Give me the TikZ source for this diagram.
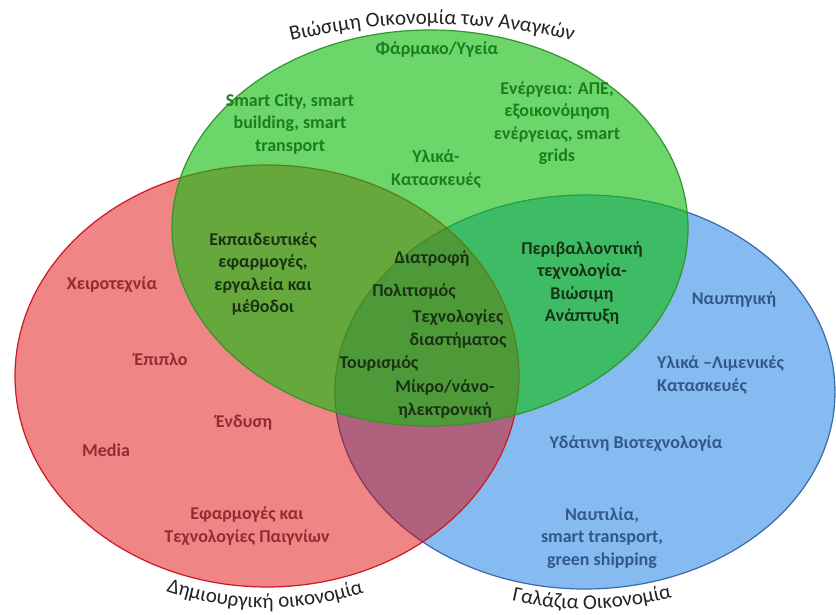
\documentclass[tikz,border=0pt]{standalone}
\usepackage{fontspec}
\setmainfont{Carlito}
\usetikzlibrary{decorations.text}
\definecolor{bluefill}{RGB}{133,187,240}
\definecolor{bluedraw}{RGB}{60,105,165}
\definecolor{redfill}{RGB}{223,0,0}
\definecolor{reddraw}{RGB}{205,25,35}
\definecolor{greenfill}{RGB}{19,190,16}
\definecolor{greendraw}{RGB}{50,150,45}
\definecolor{gtext}{RGB}{28,125,30}
\definecolor{rtext}{RGB}{145,45,50}
\definecolor{btext}{RGB}{50,88,138}
\definecolor{dtext}{RGB}{25,50,20}
\definecolor{titlecol}{RGB}{35,35,35}
\newcommand\ttlfont{\fontsize{21}{25}\selectfont}
\tikzset{
  lbl/.style={font=\bfseries\fontsize{18}{22.5}\selectfont, align=center, inner sep=0pt},
  gl/.style={lbl, text=gtext},
  rl/.style={lbl, text=rtext},
  bl/.style={lbl, text=btext},
  dl/.style={lbl, text=dtext},
  circ/.style={line width=1.2pt}
}
\begin{document}
\begin{tikzpicture}[x=1pt,y=-1pt]
\useasboundingbox (0,0) rectangle (836,615);
\fill[white] (0,0) rectangle (836,615);
% circles
\draw[circ, draw=bluedraw, fill=bluefill] (585,392) ellipse [x radius=250pt, y radius=197pt];
\draw[circ, draw=reddraw, fill=redfill, fill opacity=0.48] (267,376) ellipse [x radius=252pt, y radius=211pt];
\draw[circ, draw=greendraw, fill=greenfill, fill opacity=0.62] (430,228) ellipse [x radius=258pt, y radius=198pt];
% curved titles
\path[decorate, decoration={text along path, text align=center, text color=titlecol,
  text={|\ttlfont|Βιώσιμη Οικονομία των Αναγκών}}]
  (432,618) ++(106:594pt) arc[start angle=106, end angle=74, radius=594pt];
\path[decorate, decoration={text along path, text align=center, text color=titlecol,
  text={|\ttlfont|Δημιουργική οικονομία}}]
  (267,376) ++(246.7:270pt and 232pt) arc[start angle=246.7, end angle=292.4, x radius=270pt, y radius=232pt];
\path[decorate, decoration={text along path, text align=center, text color=titlecol,
  text={|\ttlfont|Γαλάζια Οικονομία}}]
  (585,392) ++(254.3:270pt and 217pt) arc[start angle=254.3, end angle=288.8, x radius=270pt, y radius=217pt];
% green region
\node[gl] (pharm) at (437,49) {Φάρμακο/Υγεία};
\node[gl] (smart) at (290,124) {Smart City, smart\\building, smart\\transport};
\node[gl] (energy) at (557,123) {Ενέργεια: ΑΠΕ,\\εξοικονόμηση\\ενέργειας, smart\\grids};
\node[gl] (ylika) at (436,169) {Υλικά-\\Κατασκευές};
% overlaps
\node[dl] (edu) at (263,274) {Εκπαιδευτικές\\εφαρμογές,\\εργαλεία και\\μέθοδοι};
\node[dl] (diatr) at (432,258) {Διατροφή};
\node[dl] (polit) at (414,291) {Πολιτισμός};
\node[dl] (space) at (458,329) {Τεχνολογίες\\διαστήματος};
\node[dl] (tour) at (379,363) {Τουρισμός};
\node[dl] (micro) at (445,399) {Μίκρο/νάνο-\\ηλεκτρονική};
\node[dl] (envir) at (582,283) {Περιβαλλοντική\\τεχνολογία-\\Βιώσιμη\\Ανάπτυξη};
% red region
\node[rl] (craft) at (112,285) {Χειροτεχνία};
\node[rl] (furn) at (161,359) {Έπιπλο};
\node[rl] (cloth) at (244,423) {Ένδυση};
\node[rl] (media) at (106,450) {Media};
\node[rl] (games) at (247,526) {Εφαρμογές και\\Τεχνολογίες Παιγνίων};
% blue region
\node[bl] (ship) at (734,299) {Ναυπηγική};
\node[bl, anchor=west, align=left] (port) at (657,375) {Υλικά –Λιμενικές\\Κατασκευές};
\node[bl] (aqua) at (636,444) {Υδάτινη Βιοτεχνολογία};
\node[bl] (navig) at (602,538) {Ναυτιλία,\\smart transport,\\green shipping};
\end{tikzpicture}
\end{document}
